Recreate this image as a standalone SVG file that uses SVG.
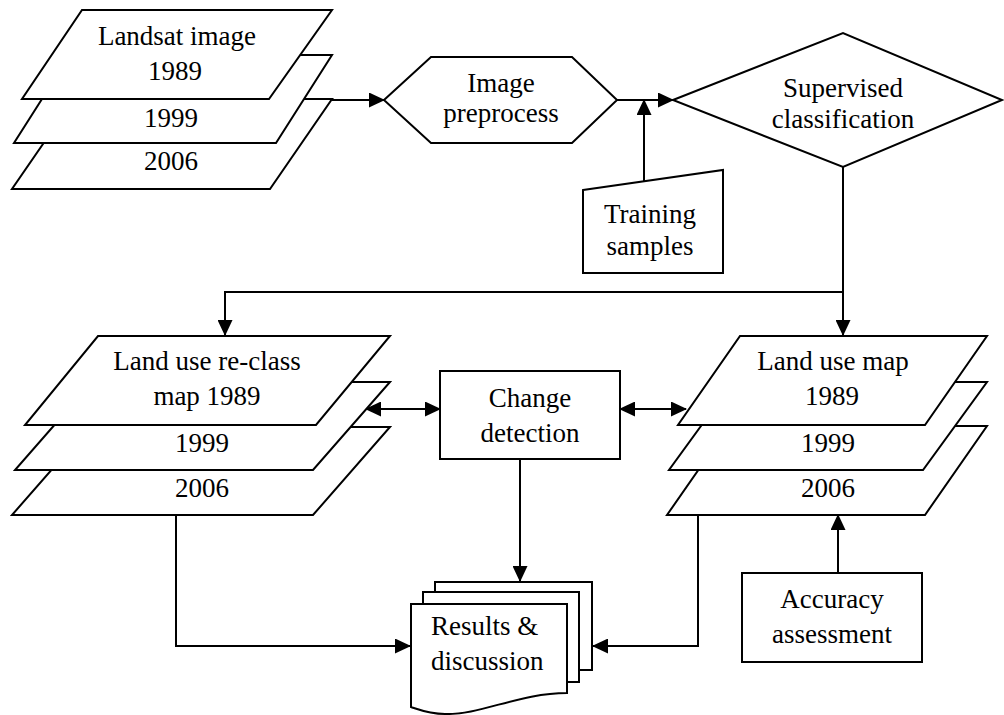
<svg xmlns="http://www.w3.org/2000/svg" width="1004" height="715" viewBox="0 0 1004 715">
<style>
.s{fill:#fff;stroke:#000;stroke-width:2;stroke-linejoin:miter}
.c{fill:none;stroke:#000;stroke-width:2}
text{font-family:"Liberation Serif","Times New Roman",serif;font-size:27px;fill:#000;text-anchor:middle}
</style>
<defs>
<marker id="ah" markerUnits="userSpaceOnUse" markerWidth="16" markerHeight="15" refX="15" refY="7.5" orient="auto-start-reverse" viewBox="0 0 16 15">
<path d="M0,0 L16,7.5 L0,15 z" fill="#000"/>
</marker>
</defs>
<rect width="1004" height="715" fill="#fff"/>
<g id="connectors">
<path class="c" d="M332,100 H384" marker-end="url(#ah)"/>
<path class="c" d="M617,100 H673" marker-end="url(#ah)"/>
<path class="c" d="M644,181 V100" marker-end="url(#ah)"/>
<path class="c" d="M843,167 V335" marker-end="url(#ah)"/>
<path class="c" d="M843,292 H225 V335" marker-end="url(#ah)"/>
<path class="c" d="M366,409 H440" marker-start="url(#ah)" marker-end="url(#ah)"/>
<path class="c" d="M620,409 H686" marker-start="url(#ah)" marker-end="url(#ah)"/>
<path class="c" d="M520,459 V581" marker-end="url(#ah)"/>
<path class="c" d="M176,515 V646 H410" marker-end="url(#ah)"/>
<path class="c" d="M698,515 V646 H593" marker-end="url(#ah)"/>
<path class="c" d="M838,573 V515" marker-end="url(#ah)"/>
</g>
<g id="landsat">
<polygon class="s" points="74,99 332,99 270,189 12,189"/>
<polygon class="s" points="70,55 332,55 276,143 14,143"/>
<polygon class="s" points="82,10 332,10 269,99 22,99"/>
<text x="177" y="45">Landsat image</text>
<text x="175" y="80">1989</text>
<text x="171" y="127">1999</text>
<text x="171" y="170">2006</text>
</g>
<g id="preprocess">
<polygon class="s" points="384,100 431,57 572,57 617,100 572,143 431,143"/>
<text x="501" y="92">Image</text>
<text x="501" y="122">preprocess</text>
</g>
<g id="classification">
<polygon class="s" points="673,100 843,33 1002,100 843,167"/>
<text x="843" y="97">Supervised</text>
<text x="843" y="128">classification</text>
</g>
<g id="training">
<polygon class="s" points="583,190 723,170 723,273 583,273"/>
<text x="650" y="223">Training</text>
<text x="650" y="255">samples</text>
</g>
<g id="reclass">
<polygon class="s" points="89,427 390,427 313,515 12,515"/>
<polygon class="s" points="92,382 390,382 313,470 15,470"/>
<polygon class="s" points="98,336 390,336 316,425 25,425"/>
<text x="207" y="370">Land use re-class</text>
<text x="207" y="405">map 1989</text>
<text x="202" y="452">1999</text>
<text x="202" y="497">2006</text>
</g>
<g id="change">
<rect class="s" x="440" y="371" width="180" height="88"/>
<text x="530" y="407">Change</text>
<text x="530" y="442">detection</text>
</g>
<g id="landuse">
<polygon class="s" points="729,426 987,426 925,515 667,515"/>
<polygon class="s" points="733,382 987,382 923,470 669,470"/>
<polygon class="s" points="740,336 987,336 925,425 678,425"/>
<text x="833" y="370">Land use map</text>
<text x="832" y="405">1989</text>
<text x="828" y="452">1999</text>
<text x="828" y="497">2006</text>
</g>
<g id="accuracy">
<rect class="s" x="742" y="573" width="180" height="89"/>
<text x="832" y="608">Accuracy</text>
<text x="832" y="643">assessment</text>
</g>
<g id="results">
<rect class="s" x="435" y="582" width="157" height="88"/>
<rect class="s" x="423" y="592" width="156" height="90"/>
<path class="s" d="M411,604 H567 V693 C520,693 480,715 445,714 C430,714 420,710 411,707 Z"/>
<text x="431" y="635" style="text-anchor:start">Results &amp;</text>
<text x="431" y="670" style="text-anchor:start">discussion</text>
</g>
</svg>
